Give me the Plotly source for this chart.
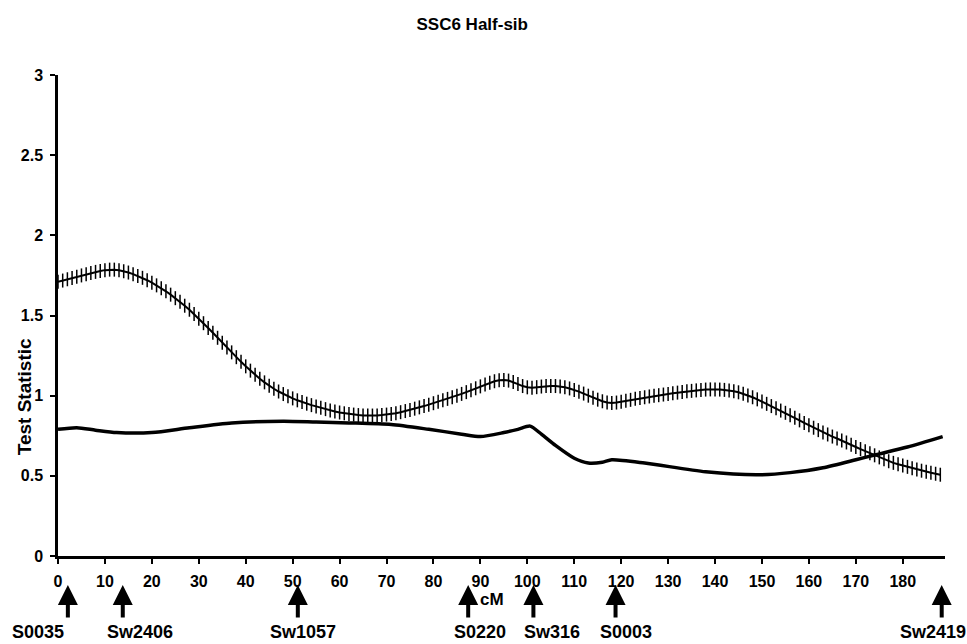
import plotly.graph_objects as go

# ---------------- data ----------------
cm_cross = list(range(0, 189))
cross_vals = [
    1.710, 1.718, 1.726, 1.734, 1.742, 1.750, 1.758, 1.765, 1.772, 1.778,
    1.783, 1.786, 1.786, 1.782, 1.776, 1.768, 1.758, 1.747, 1.735, 1.720,
    1.705, 1.688, 1.670, 1.651, 1.630, 1.608, 1.585, 1.561, 1.536, 1.509,
    1.480, 1.452, 1.422, 1.392, 1.361, 1.330, 1.300, 1.270, 1.240, 1.211,
    1.183, 1.156, 1.130, 1.106, 1.083, 1.062, 1.043, 1.026, 1.010, 0.996,
    0.983, 0.971, 0.960, 0.950, 0.941, 0.933, 0.924, 0.916, 0.908, 0.901,
    0.895, 0.890, 0.886, 0.882, 0.879, 0.877, 0.876, 0.876, 0.877, 0.879,
    0.882, 0.886, 0.891, 0.897, 0.904, 0.911, 0.919, 0.927, 0.935, 0.944,
    0.953, 0.962, 0.971, 0.980, 0.990, 1.000, 1.011, 1.022, 1.034, 1.046,
    1.058, 1.070, 1.081, 1.090, 1.096, 1.098, 1.094, 1.085, 1.072, 1.060,
    1.052, 1.050, 1.053, 1.057, 1.060, 1.061, 1.060, 1.057, 1.052, 1.045,
    1.036, 1.025, 1.013, 1.000, 0.987, 0.975, 0.965, 0.958, 0.955, 0.957,
    0.962, 0.968, 0.974, 0.980, 0.985, 0.990, 0.995, 0.999, 1.003, 1.007,
    1.011, 1.015, 1.019, 1.023, 1.027, 1.030, 1.033, 1.036, 1.038, 1.039,
    1.039, 1.038, 1.036, 1.033, 1.028, 1.021, 1.012, 1.001, 0.990, 0.977,
    0.963, 0.949, 0.935, 0.921, 0.907, 0.893, 0.878, 0.862, 0.846, 0.830,
    0.815, 0.800, 0.785, 0.771, 0.758, 0.745, 0.733, 0.721, 0.708, 0.694,
    0.680, 0.667, 0.654, 0.641, 0.628, 0.615, 0.603, 0.591, 0.581, 0.572,
    0.564, 0.556, 0.548, 0.540, 0.532, 0.525, 0.519, 0.513, 0.507,
]

cm_solid = [0, 4, 8, 12.5, 20, 28, 37, 48, 55, 62, 71, 79, 86, 90, 95, 98,
            100.6, 103, 106, 110, 113, 116, 118, 125, 138, 149, 156, 163,
            170, 174, 181, 188.5]
solid_vals = [0.79, 0.80, 0.785, 0.77, 0.77, 0.80, 0.83, 0.84, 0.835, 0.83,
              0.82, 0.79, 0.76, 0.745, 0.77, 0.79, 0.81, 0.76, 0.69, 0.61,
              0.58, 0.585, 0.60, 0.58, 0.525, 0.506, 0.52, 0.55, 0.60, 0.63,
              0.68, 0.745]

marker_names = ["S0035", "Sw2406", "Sw1057", "S0220", "Sw316", "S0003", "Sw2419"]
marker_pos = [2.1, 13.8, 51.1, 87.4, 101.3, 118.8, 188.3]
label_shift_px = [-30, 17, 5, 12, 19, 10, -9]

x_ticks = list(range(0, 190, 10))
y_ticks = [0, 0.5, 1, 1.5, 2, 2.5, 3]
y_ticktext = ["0", "0.5", "1", "1.5", "2", "2.5", "3"]

title_text = "SSC6 Half-sib"
y_title = "Test Statistic"
x_title = "cM"

# ---------------- figure ----------------
FONT = "Arial, Liberation Sans, sans-serif"
fig = go.Figure()

fig.add_trace(go.Scatter(
    x=cm_solid, y=solid_vals, mode="lines",
    line=dict(color="black", width=3.5, shape="spline", smoothing=0.7),
    showlegend=False, hoverinfo="skip",
))
fig.add_trace(go.Scatter(
    x=cm_cross, y=cross_vals, mode="lines+markers",
    line=dict(color="black", width=2),
    marker=dict(symbol="line-ns", size=10, color="black",
                line=dict(color="black", width=1.5)),
    showlegend=False, hoverinfo="skip",
))

annotations = []
for name, pos, shift in zip(marker_names, marker_pos, label_shift_px):
    annotations.append(dict(
        x=pos, xref="x", y=-0.0603, yref="paper",
        text="", showarrow=True, arrowhead=2, arrowsize=1.0, arrowwidth=4,
        arrowcolor="black", ax=0, ay=34, standoff=0,
    ))
    annotations.append(dict(
        x=pos, xref="x", y=-0.158, yref="paper", xshift=shift,
        text=name, showarrow=False, xanchor="center", yanchor="middle",
        font=dict(family=FONT, size=18, color="black", weight="bold"),
    ))

annotations.append(dict(
    x=0.489, xref="paper", y=-0.09, yref="paper", text=x_title,
    showarrow=False, xanchor="center", yanchor="middle",
    font=dict(family=FONT, size=17, color="black", weight="bold"),
))
annotations.append(dict(
    x=-0.0383, xref="paper", y=0.33, yref="paper", text=y_title,
    showarrow=False, xanchor="center", yanchor="middle", textangle=-90,
    font=dict(family=FONT, size=19, color="black", weight="bold"),
))

fig.update_layout(
    width=967, height=644,
    margin=dict(l=58, r=22, t=75, b=88),
    paper_bgcolor="white", plot_bgcolor="white",
    title=dict(text=title_text, x=0.467, xref="paper", xanchor="center",
               y=1 - 24 / 644, yref="container", yanchor="middle",
               font=dict(family=FONT, size=17, color="black", weight="bold")),
    annotations=annotations,
    xaxis=dict(range=[0, 189], tickvals=x_ticks, ticks="outside", ticklen=5,
               tickwidth=2, tickcolor="black", showline=True, linewidth=2.5,
               linecolor="black", showgrid=False, zeroline=False,
               ticklabelstandoff=4,
               tickfont=dict(family=FONT, size=16, color="black", weight="bold")),
    yaxis=dict(range=[0, 3], tickvals=y_ticks, ticktext=y_ticktext,
               ticks="outside", ticklen=5, tickwidth=2, tickcolor="black",
               showline=True, linewidth=2.5, linecolor="black",
               showgrid=False, zeroline=False, ticklabelstandoff=4,
               tickfont=dict(family=FONT, size=16, color="black", weight="bold")),
)

fig.write_html("out.html")
